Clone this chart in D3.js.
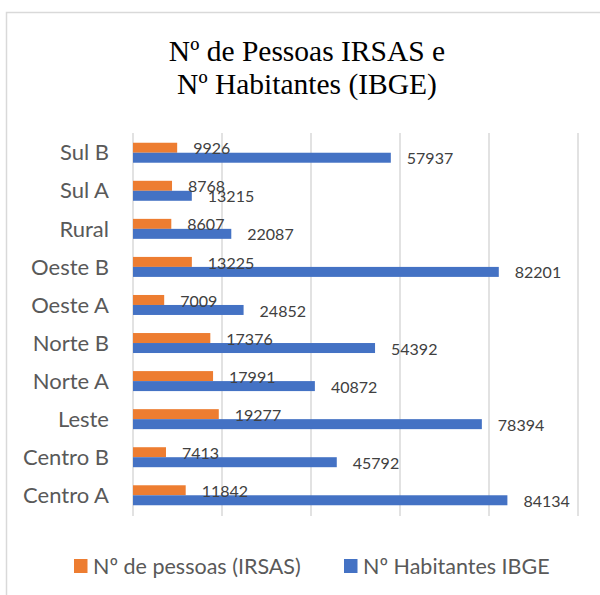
<!DOCTYPE html>
<html>
<head>
<meta charset="utf-8">
<script src="https://cdn.jsdelivr.net/npm/d3@7"></script>
<style>
  body { margin: 0; background: #fff; }
</style>
</head>
<body>
<div id="chart"></div>
<script>
const width = 600;
const height = 595;

// data, top to bottom as shown
const categories = ["Sul B", "Sul A", "Rural", "Oeste B", "Oeste A", "Norte B", "Norte A", "Leste", "Centro B", "Centro A"];
const irsas = [9926, 8768, 8607, 13225, 7009, 17376, 17991, 19277, 7413, 11842];
const ibge = [57937, 13215, 22087, 82201, 24852, 54392, 40872, 78394, 45792, 84134];
const seriesNames = ["Nº de pessoas (IRSAS)", "Nº Habitantes IBGE"];
const seriesColors = ["#ed7d31", "#4472c4"];
const xTicks = [0, 20000, 40000, 60000, 80000, 100000];
const titleLines = ["Nº de Pessoas IRSAS e", "Nº Habitantes (IBGE)"];

const rows = categories.map((c, i) => ({ cat: c, values: [irsas[i], ibge[i]] }));

const svg = d3.select("#chart")
  .append("svg")
  .attr("width", width)
  .attr("height", height);

// chart frame (runs off the right/bottom edge like the original crop)
svg.append("rect")
  .attr("x", 6.5).attr("y", 12.5)
  .attr("width", 620).attr("height", 620)
  .attr("fill", "#fff")
  .attr("stroke", "#d9d9d9")
  .attr("stroke-width", 1.5);

// title
svg.append("g")
  .attr("font-family", "'Liberation Serif', 'Times New Roman', serif")
  .attr("font-size", 29.5)
  .attr("fill", "#000")
  .attr("text-anchor", "middle")
  .selectAll("text")
  .data(titleLines)
  .join("text")
  .attr("x", 307)
  .attr("y", (d, i) => 60.7 + i * 33.5)
  .text(d => d);

const x = d3.scaleLinear().domain([0, 100000]).range([133, 578]);

const y = d3.scaleBand()
  .domain(categories)
  .range([133.7, 514.3])
  .paddingInner(0.475)
  .paddingOuter(0.2375);

const ySub = d3.scaleBand()
  .domain([0, 1])
  .range([0, y.bandwidth()]);

// gridlines
svg.append("g")
  .selectAll("line")
  .data(xTicks)
  .join("line")
  .attr("x1", d => x(d)).attr("x2", d => x(d))
  .attr("y1", 133).attr("y2", 516)
  .attr("stroke", "#d9d9d9")
  .attr("stroke-width", 1.5);

// category labels
svg.append("g")
  .attr("font-family", "Lato, 'Open Sans', sans-serif")
  .attr("font-size", 22)
  .attr("fill", "#595959")
  .attr("text-anchor", "end")
  .selectAll("text")
  .data(categories)
  .join("text")
  .attr("x", 109)
  .attr("y", d => y(d) + y.bandwidth() / 2)
  .attr("dy", "0.35em")
  .text(d => d);

// bars
const group = svg.append("g")
  .selectAll("g")
  .data(rows)
  .join("g")
  .attr("transform", d => `translate(0,${y(d.cat)})`);

group.selectAll("rect")
  .data(d => d.values.map((v, k) => ({ v, k })))
  .join("rect")
  .attr("x", x(0))
  .attr("y", d => ySub(d.k))
  .attr("width", d => x(d.v) - x(0))
  .attr("height", ySub.bandwidth())
  .attr("fill", d => seriesColors[d.k]);

// value labels
group.selectAll("text")
  .data(d => d.values.map((v, k) => ({ v, k })))
  .join("text")
  .attr("font-family", "Lato, 'Open Sans', sans-serif")
  .attr("font-size", 16)
  .attr("fill", "#404040")
  .attr("x", d => x(d.v) + 16)
  .attr("y", d => ySub(d.k) + ySub.bandwidth() / 2 + 1)
  .attr("dy", "0.35em")
  .text(d => d.v);

// legend
const legendX = [74, 344];
const legend = svg.append("g")
  .selectAll("g")
  .data(seriesNames)
  .join("g")
  .attr("transform", (d, i) => `translate(${legendX[i]},566)`);

legend.append("rect")
  .attr("x", 0).attr("y", -7)
  .attr("width", 13.5).attr("height", 14)
  .attr("fill", (d, i) => seriesColors[i]);

legend.append("text")
  .attr("x", 19)
  .attr("dy", "0.35em")
  .attr("font-family", "Lato, 'Open Sans', sans-serif")
  .attr("font-size", 21.5)
  .attr("fill", "#595959")
  .text(d => d);
</script>
</body>
</html>
